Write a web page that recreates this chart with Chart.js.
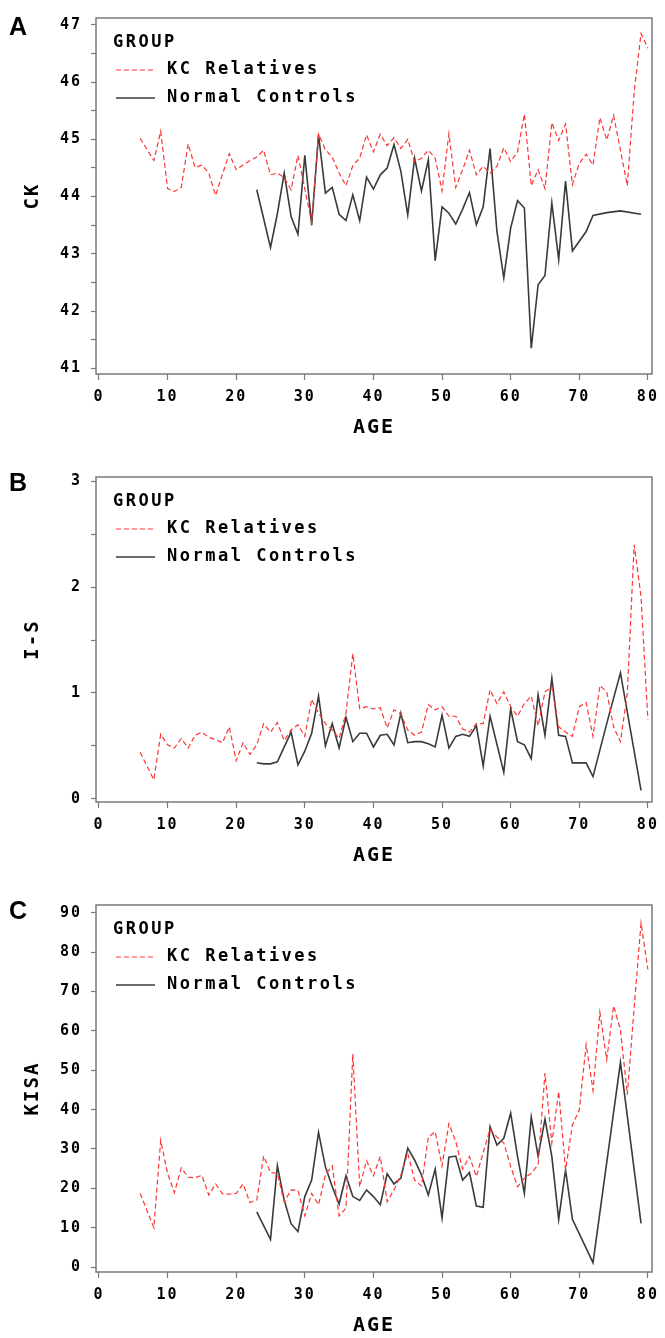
<!DOCTYPE html>
<html>
<head>
<meta charset="utf-8">
<script src="https://cdn.jsdelivr.net/npm/chart.js@4"></script>
<style>
  body { margin: 0; background: #fff; width: 665px; height: 1338px; position: relative; overflow: hidden; }
  canvas { position: absolute; left: 0; }
</style>
</head>
<body>
<canvas id="chartA" width="665" height="440" style="top:0"></canvas>
<canvas id="chartB" width="665" height="428" style="top:440px"></canvas>
<canvas id="chartC" width="665" height="470" style="top:868px"></canvas>
<script>
// tick labels
var ageTicks = [0, 10, 20, 30, 40, 50, 60, 70, 80];
var ckTicks = [41, 42, 43, 44, 45, 46, 47];
var isTicks = [0, 1, 2, 3];
var kisaTicks = [0, 10, 20, 30, 40, 50, 60, 70, 80, 90];

// A: CK
var ckRelAge = [6,8,9,10,11,12,13,14,15,16,17,18,19,20,21,22,23,24,25,26,27,28,29,31,32,33,34,35,36,37,38,39,40,41,42,43,44,45,46,47,48,49,50,51,52,53,54,55,56,57,58,59,60,61,62,63,64,65,66,67,68,69,70,71,72,73,74,75,76,77,78,79,80];
var ckRelVal = [45.02,44.63,45.14,44.14,44.09,44.16,44.92,44.51,44.55,44.41,44.02,44.39,44.75,44.47,44.55,44.63,44.69,44.81,44.38,44.41,44.33,44.12,44.72,43.55,45.09,44.82,44.69,44.41,44.19,44.54,44.67,45.08,44.78,45.09,44.89,45.03,44.84,45.0,44.61,44.67,44.81,44.67,44.10,45.10,44.16,44.47,44.81,44.38,44.53,44.41,44.53,44.85,44.61,44.78,45.44,44.19,44.47,44.14,45.29,44.98,45.27,44.21,44.58,44.74,44.55,45.38,44.99,45.42,44.81,44.19,45.83,46.85,46.59];
var ckNorAge = [23,25,26,27,28,29,30,31,32,33,34,35,36,37,38,39,40,41,42,43,44,45,46,47,48,49,50,51,52,53,54,55,56,57,58,59,60,61,62,63,64,65,66,67,68,69,71,72,74,76,79];
var ckNorVal = [44.12,43.11,43.7,44.41,43.65,43.34,44.72,43.50,45.08,44.06,44.16,43.69,43.58,44.03,43.58,44.34,44.13,44.38,44.50,44.91,44.44,43.68,44.67,44.10,44.64,42.88,43.82,43.71,43.52,43.78,44.07,43.51,43.82,44.84,43.39,42.58,43.45,43.93,43.80,41.35,42.46,42.62,43.89,42.90,44.27,43.05,43.39,43.67,43.72,43.75,43.69];

// B: I-S
var isRelAge = [6,8,9,10,11,12,13,14,15,16,17,18,19,20,21,22,23,24,25,26,27,28,29,30,31,32,33,34,35,36,37,38,39,40,41,42,43,44,45,46,47,48,49,50,51,52,53,54,55,56,57,58,59,60,61,62,63,64,65,66,67,68,69,70,71,72,73,74,75,76,77,78,79,80];
var isRelVal = [0.44,0.18,0.61,0.51,0.48,0.57,0.48,0.60,0.63,0.58,0.56,0.53,0.68,0.36,0.53,0.42,0.51,0.71,0.63,0.72,0.55,0.65,0.70,0.59,0.94,0.81,0.71,0.65,0.57,0.81,1.37,0.85,0.87,0.85,0.86,0.67,0.84,0.80,0.65,0.60,0.63,0.89,0.84,0.87,0.78,0.78,0.66,0.63,0.71,0.71,1.03,0.90,1.01,0.87,0.78,0.90,0.97,0.69,1.01,1.06,0.68,0.63,0.59,0.87,0.91,0.59,1.07,1.01,0.68,0.54,1.00,2.40,1.91,0.75];
var isNorAge = [23,24,25,26,28,29,30,31,32,33,34,35,36,37,38,39,40,41,42,43,44,45,46,47,48,49,50,51,52,53,54,55,56,57,59,60,61,62,63,64,65,66,67,68,69,71,72,74,76,79];
var isNorVal = [0.34,0.33,0.33,0.35,0.63,0.32,0.45,0.62,0.97,0.50,0.71,0.48,0.77,0.54,0.62,0.62,0.49,0.60,0.61,0.51,0.81,0.53,0.54,0.54,0.52,0.49,0.79,0.48,0.59,0.61,0.59,0.69,0.31,0.78,0.25,0.85,0.54,0.51,0.38,0.98,0.60,1.14,0.60,0.59,0.34,0.34,0.21,0.71,1.19,0.08];

// C: KISA
var kisaRelAge = [6,8,9,10,11,12,13,14,15,16,17,18,19,20,21,22,23,24,25,26,27,28,29,30,31,32,33,34,35,36,37,38,39,40,41,42,43,44,45,46,47,48,49,50,51,52,53,54,55,56,57,58,59,60,61,62,63,64,65,66,67,68,69,70,71,72,73,74,75,76,77,78,79,80];
var kisaRelVal = [18.7,10,32.2,23.8,18.9,25.2,22.8,22.7,23.3,18.3,21.1,18.6,18.5,18.7,21.1,16.4,17.0,28.2,24.0,23.8,16.6,19.6,19.5,13,18.7,15.8,23.4,25.7,13,15,54.2,20.4,27.0,23.2,28.1,16.6,19.6,23.4,28.9,22.1,20.6,33.0,34.4,25.7,36.4,31.9,24.9,28.1,23.0,29.1,35.0,33.0,31.5,25.6,20.4,22.6,23.8,26.0,49.3,31.5,44.6,24.7,36.1,39.9,56.5,44.9,64.7,52.7,66.4,60.3,43.8,66,87.4,75.6];
var kisaNorAge = [23,25,26,27,28,29,30,31,32,33,34,35,36,37,38,39,40,41,42,43,44,45,46,47,48,49,50,51,52,53,54,55,56,57,58,59,60,61,62,63,64,65,66,67,68,69,72,76,79];
var kisaNorVal = [14,7,25.7,17,11,9,17.9,22.1,34.2,25.5,20.4,16.0,23.2,17.9,16.9,19.6,17.9,15.8,23.7,21.1,22.6,30.2,27.2,23.4,18.3,24.9,12.4,27.9,28.2,22.1,24.0,15.5,15.2,35.7,31.0,32.7,39.1,28.1,18.7,38.1,28.2,37.6,28.1,12.1,24.7,12.1,1.1,52.0,11.1];

var groupLabels = ['KC Relatives', 'Normal Controls'];

function pts(ages, vals) {
  return ages.map(function(a, i) { return {x: a, y: vals[i]}; });
}

var framePlugin = {
  id: 'frame',
  beforeDraw: function(chart) {
    chart.ctx.letterSpacing = '2px';
  },
  afterDraw: function(chart, args, opts) {
    var ctx = chart.ctx, a = chart.chartArea;
    ctx.save();
    ctx.strokeStyle = '#7a7a7a';
    ctx.lineWidth = 1.5;
    ctx.strokeRect(a.left, a.top, a.right - a.left, a.bottom - a.top);
    ctx.fillStyle = '#000';
    ctx.textAlign = 'left';
    ctx.textBaseline = 'middle';
    ctx.letterSpacing = '0px';
    ctx.font = 'bold 25px "Liberation Sans"';
    ctx.fillText(opts.letter, 9, a.top + opts.letterDy);
    ctx.letterSpacing = '2.5px';
    ctx.font = 'bold 17px "DejaVu Sans Mono"';
    ctx.fillText('GROUP', a.left + 17, a.top + 25);
    chart.data.datasets.forEach(function(ds, i) {
      var y = a.top + 52 + 28 * i;
      ctx.save();
      ctx.strokeStyle = ds.borderColor;
      ctx.lineWidth = ds.borderWidth;
      ctx.setLineDash(ds.borderDash || []);
      ctx.beginPath();
      ctx.moveTo(a.left + 20, y);
      ctx.lineTo(a.left + 59, y);
      ctx.stroke();
      ctx.restore();
      ctx.fillText(ds.label, a.left + 71, y);
    });
    ctx.restore();
  }
};

function makePanel(id, cfg) {
  var minor = [];
  for (var i = 0; i < cfg.yTicks.length - 1; i++) {
    minor.push(cfg.yTicks[i], (cfg.yTicks[i] + cfg.yTicks[i + 1]) / 2);
  }
  minor.push(cfg.yTicks[cfg.yTicks.length - 1]);
  return new Chart(document.getElementById(id), {
    type: 'line',
    data: {
      datasets: [{
        label: groupLabels[0],
        data: pts(cfg.relAge, cfg.relVal),
        borderColor: '#ff3434',
        borderWidth: 1.2,
        borderDash: [5, 3],
        pointRadius: 0,
        tension: 0
      }, {
        label: groupLabels[1],
        data: pts(cfg.norAge, cfg.norVal),
        borderColor: '#3a3a3a',
        borderWidth: 1.6,
        pointRadius: 0,
        tension: 0
      }]
    },
    options: {
      responsive: false,
      animation: false,
      devicePixelRatio: 1,
      layout: { padding: { top: cfg.padTop, right: 10, bottom: 0, left: 0 } },
      plugins: { legend: { display: false }, tooltip: { enabled: false }, frame: { letter: cfg.letter, letterDy: cfg.letterDy } },
      scales: {
        x: {
          type: 'linear',
          min: -0.43, max: 80.6,
          afterBuildTicks: function(s) { s.ticks = ageTicks.map(function(v) { return {value: v}; }); },
          afterFit: function(s) { s.height = 66; },
          border: { display: false },
          grid: { drawOnChartArea: false, tickLength: 6, tickColor: '#7a7a7a', tickWidth: 1.2 },
          ticks: { autoSkip: false, maxRotation: 0, padding: 8, color: '#000', font: { family: 'DejaVu Sans Mono', weight: 'bold', size: 15 } },
          title: { display: true, text: 'AGE', color: '#000', padding: { top: 0, bottom: 0 }, font: { family: 'DejaVu Sans Mono', weight: 'bold', size: 20 } }
        },
        y: {
          min: cfg.yMin, max: cfg.yMax,
          afterBuildTicks: function(s) { s.ticks = minor.map(function(v) { return {value: v}; }); },
          afterFit: function(s) { s.width = 96; },
          border: { display: false },
          grid: { drawOnChartArea: false, tickLength: 5, tickColor: '#7a7a7a', tickWidth: 1.2 },
          ticks: {
            padding: 9, color: '#000',
            font: { family: 'DejaVu Sans Mono', weight: 'bold', size: 15 },
            callback: function(v) { return cfg.yTicks.indexOf(v) >= 0 ? String(v) : ''; }
          },
          title: { display: true, text: cfg.yTitle, color: '#000', padding: { top: 22, bottom: 0 }, font: { family: 'DejaVu Sans Mono', weight: 'bold', size: 19 } }
        }
      }
    },
    plugins: [framePlugin]
  });
}

makePanel('chartA', { letter: 'A', letterDy: 10, padTop: 7, yMin: 40.9, yMax: 47.12, yTicks: ckTicks, yTitle: 'CK',
  relAge: ckRelAge, relVal: ckRelVal, norAge: ckNorAge, norVal: ckNorVal });
makePanel('chartB', { letter: 'B', letterDy: 7, padTop: 37, yMin: -0.03, yMax: 3.04, yTicks: isTicks, yTitle: 'I-S',
  relAge: isRelAge, relVal: isRelVal, norAge: isNorAge, norVal: isNorVal });
makePanel('chartC', { letter: 'C', letterDy: 7, padTop: 37, yMin: -1.27, yMax: 92.0, yTicks: kisaTicks, yTitle: 'KISA',
  relAge: kisaRelAge, relVal: kisaRelVal, norAge: kisaNorAge, norVal: kisaNorVal });
</script>
</body>
</html>
